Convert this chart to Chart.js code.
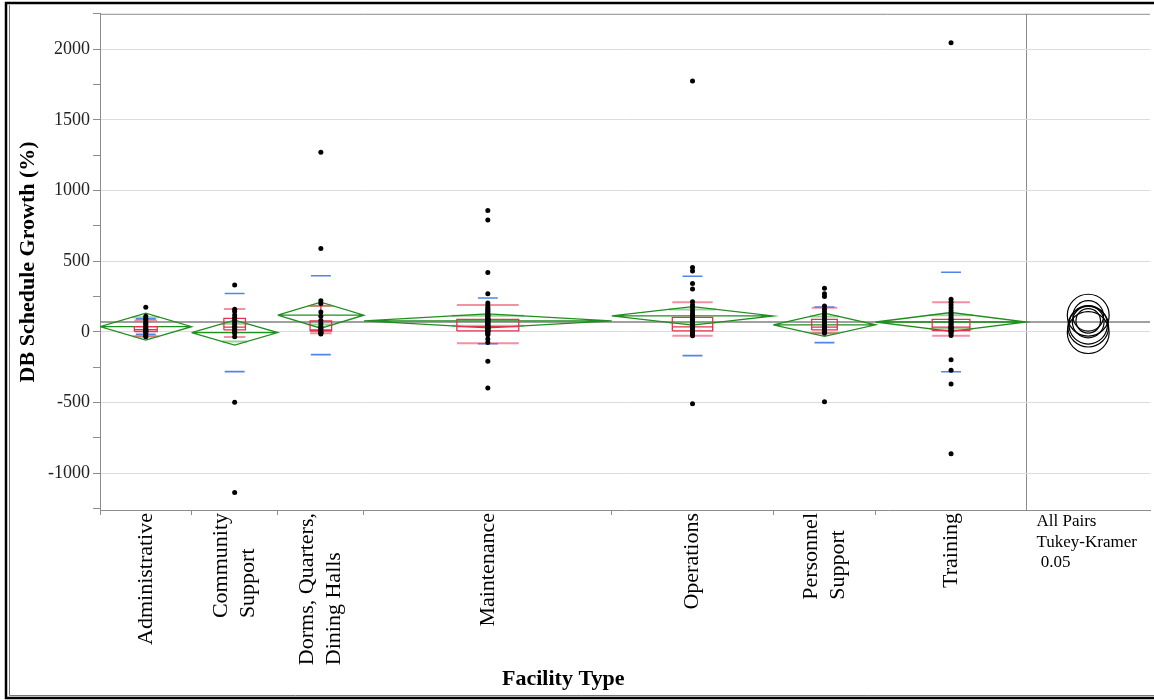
<!DOCTYPE html>
<html>
<head>
<meta charset="utf-8">
<script src="https://cdn.jsdelivr.net/npm/chart.js@4.4.1/dist/chart.umd.min.js"></script>
<style>
	html, body { margin: 0; padding: 0; background: #fff; }
	#wrap { position: relative; width: 1154px; height: 700px; }
</style>
</head>
<body>
<div id="wrap"><canvas id="grafico"></canvas></div>
<script>
/* Datos */
const categorias = ["Administrative", "Community Support", "Dorms, Quarters, Dining Halls", "Maintenance", "Operations", "Personnel Support", "Training"];
const etiquetas = [["Administrative"], ["Community", "Support"], ["Dorms, Quarters,", "Dining Halls"], ["Maintenance"], ["Operations"], ["Personnel", "Support"], ["Training"]];

const valAdministrative = [174, 110, 95, 85, 70, 60, 50, 40, 30, 20, 15, 10, 5, 0, -10, -25, -35];
const valCommunity = [331, 160, 145, 120, 100, 85, 70, 55, 40, 30, 15, 5, -10, -35, -498, -1136];
const valDorms = [1270, 589, 221, 200, 140, 110, 80, 60, 40, 30, 20, 10, 0, -5, -10, -15];
const valMaintenance = [859, 791, 420, 270, 204, 185, 170, 160, 150, 140, 130, 120, 115, 110, 100, 95, 90, 88, 85, 80, 75, 70, 65, 60, 55, 50, 45, 42, 40, 35, 30, 28, 25, 20, 15, 12, 10, 5, 0, -5, -15, -21, -50, -75, -208, -397];
const valOperations = [1775, 456, 430, 343, 303, 213, 190, 170, 150, 130, 115, 100, 90, 80, 70, 60, 50, 45, 40, 35, 30, 25, 20, 15, 10, 5, 0, -15, -28, -509];
const valPersonnel = [308, 270, 250, 183, 160, 140, 120, 100, 85, 70, 55, 40, 30, 20, 10, 5, 0, -10, -495];
const valTraining = [2045, 230, 210, 190, 170, 150, 130, 115, 100, 90, 80, 70, 60, 50, 40, 35, 30, 25, 20, 10, 5, 0, -10, -25, -197, -272, -369, -862];

// diamantes de medias (media e IC 95%)
const medias = [37, -5, 118, 78, 113, 50, 70];
const mediaIC = [95, 88, 92, 50, 65, 82, 67];
const desvEstandar = [55, 276, 279, 162, 281, 126, 352];
const mediaGeneral = 70;

// cajas
const q1 = [2, 14, 5, 7, 7, 14, 9];
const mediana = [15, 33, 14, 37, 35, 33, 33];
const q3 = [37, 96, 77, 89, 103, 89, 89];
const bigoteInf = [-33, -37, -10, -80, -28, -10, -28];
const bigoteSup = [80, 162, 185, 190, 209, 171, 209];

// círculos de comparación Tukey-Kramer
const radiosCirculo = [144, 148, 148, 87, 108, 136, 112];

const yTicks = { min: -1260, max: 2250, paso: 250, mayor: 500 };

/* Construcción de los segmentos */
const grupos = [valAdministrative, valCommunity, valDorms, valMaintenance, valOperations, valPersonnel, valTraining];
const nTotal = grupos.reduce((s, g) => s + g.length, 0);
const xMax = nTotal * (1 + 124 / 930);
const centroPanel = (nTotal + xMax) / 2;

const limites = [0];
grupos.forEach((g) => limites.push(limites[limites.length - 1] + g.length));
const centros = grupos.map((g, i) => limites[i] + g.length / 2);

function seg(arr, pts) {
	pts.forEach((p) => arr.push(p));
	arr.push({ x: pts[0].x, y: null });
}

const puntos = [];
const segDiamantes = [];
const segSolape = [];
const segCajas = [];
const segBigotes = [];
const segDesv = [];
const segMediaGeneral = [];

grupos.forEach((g, i) => {
	const c = centros[i];
	const s = limites[i];
	const e = limites[i + 1];
	const m = medias[i];
	const ic = mediaIC[i];
	g.forEach((v) => puntos.push({ x: c, y: v }));

	seg(segDiamantes, [{ x: s, y: m }, { x: c, y: m + ic }, { x: e, y: m }, { x: c, y: m - ic }, { x: s, y: m }]);
	seg(segDiamantes, [{ x: s, y: m }, { x: e, y: m }]);
	const h = ic / Math.SQRT2;
	const hw = (g.length / 2) * (1 - 1 / Math.SQRT2);
	seg(segSolape, [{ x: c - hw, y: m + h }, { x: c + hw, y: m + h }]);
	seg(segSolape, [{ x: c - hw, y: m - h }, { x: c + hw, y: m - h }]);

	const hb = g.length / 8;
	seg(segCajas, [{ x: c - hb, y: q1[i] }, { x: c + hb, y: q1[i] }, { x: c + hb, y: q3[i] }, { x: c - hb, y: q3[i] }, { x: c - hb, y: q1[i] }]);
	seg(segCajas, [{ x: c - hb, y: mediana[i] }, { x: c + hb, y: mediana[i] }]);
	seg(segCajas, [{ x: c, y: q3[i] }, { x: c, y: bigoteSup[i] }]);
	seg(segCajas, [{ x: c, y: q1[i] }, { x: c, y: bigoteInf[i] }]);
	seg(segBigotes, [{ x: c - hb, y: bigoteSup[i] }, { x: c + hb, y: bigoteSup[i] }]);
	seg(segBigotes, [{ x: c - hb, y: bigoteInf[i] }, { x: c + hb, y: bigoteInf[i] }]);

	seg(segDesv, [{ x: c - 1.85, y: m + desvEstandar[i] }, { x: c + 1.85, y: m + desvEstandar[i] }]);
	seg(segDesv, [{ x: c - 1.85, y: m - desvEstandar[i] }, { x: c + 1.85, y: m - desvEstandar[i] }]);
});
seg(segMediaGeneral, [{ x: 0, y: mediaGeneral }, { x: xMax, y: mediaGeneral }]);

function linea(data, color, ancho, orden) {
	return { type: "line", data, borderColor: color, borderWidth: ancho, pointRadius: 0, fill: false, spanGaps: false, tension: 0, order: orden };
}

//Plugin para círculos, etiquetas y marco
const dibujoExtra = {
	id: "dibujoExtra",
	afterDatasetsDraw(chart) {
		const { ctx, scales: { x, y } } = chart;
		ctx.save();
		ctx.strokeStyle = "#000";
		ctx.lineWidth = 1.2;
		medias.forEach((m, i) => {
			const cx = x.getPixelForValue(centroPanel);
			const cy = y.getPixelForValue(m);
			const r = cy - y.getPixelForValue(m + radiosCirculo[i]);
			ctx.beginPath();
			ctx.arc(cx, cy, r, 0, Math.PI * 2);
			ctx.stroke();
		});
		ctx.restore();
	},
	afterDraw(chart) {
		const { ctx, chartArea: a, scales: { x } } = chart;
		ctx.save();
		ctx.strokeStyle = "#8c8c8c";
		ctx.lineWidth = 1;
		ctx.beginPath();
		ctx.moveTo(a.left, a.top + 0.5);
		ctx.lineTo(a.right, a.top + 0.5);
		ctx.stroke();

		// marco exterior
		ctx.strokeStyle = "#000";
		ctx.lineWidth = 2.5;
		ctx.beginPath();
		ctx.moveTo(1154, 3);
		ctx.lineTo(6, 3);
		ctx.lineTo(6, 698);
		ctx.lineTo(1154, 698);
		ctx.stroke();
		ctx.strokeStyle = "#777";
		ctx.lineWidth = 1;
		ctx.beginPath();
		ctx.moveTo(9.5, 5);
		ctx.lineTo(9.5, 695.5);
		ctx.lineTo(1154, 695.5);
		ctx.stroke();

		// etiquetas de categorías
		ctx.fillStyle = "#000";
		ctx.font = '22px "Liberation Serif"';
		ctx.textBaseline = "middle";
		ctx.textAlign = "left";
		etiquetas.forEach((lineas, i) => {
			const cx = x.getPixelForValue(centros[i]);
			const largo = Math.max(...lineas.map((l) => ctx.measureText(l).width));
			const base = a.bottom + 3 + largo;
			lineas.forEach((l, k) => {
				ctx.save();
				ctx.translate(cx + (k - (lineas.length - 1) / 2) * 27, base);
				ctx.rotate(-Math.PI / 2);
				ctx.fillText(l, 0, 0);
				ctx.restore();
			});
		});

		// título eje x
		const xDiv = x.getPixelForValue(nTotal);
		ctx.font = 'bold 22px "Liberation Serif"';
		ctx.textAlign = "center";
		ctx.fillText("Facility Type", (a.left + xDiv) / 2, 679);

		// texto del panel derecho
		ctx.font = '17px "Liberation Serif"';
		ctx.textAlign = "left";
		ctx.textBaseline = "alphabetic";
		["All Pairs", "Tukey-Kramer", " 0.05"].forEach((t, k) => {
			ctx.fillText(t, xDiv + 10, a.bottom + 16 + k * 20.5);
		});
		ctx.restore();
	},
};

const plotRef = document.getElementById("grafico");

//Objeto de configuración del gráfico
let config = {
	type: "line",
	data: {
		datasets: [
			{ type: "scatter", data: puntos, pointRadius: 2.5, pointBackgroundColor: "#000", pointBorderWidth: 0, showLine: false, order: 0 },
			linea(segCajas, "#e8304f", 1.3, 1),
			linea(segBigotes, "rgba(235,70,100,0.6)", 2, 2),
			linea(segDesv, "#4f86e8", 1.6, 3),
			linea(segDiamantes, "#1f8f1f", 1.3, 4),
			linea(segSolape, "rgba(90,185,90,0.6)", 2, 5),
			linea(segMediaGeneral, "#808080", 1.3, 6),
		],
	},
	options: {
		responsive: true,
		maintainAspectRatio: false,
		animation: false,
		layout: { padding: { left: 8, top: 13, right: 0, bottom: 0 } },
		plugins: { legend: { display: false }, tooltip: { enabled: false } },
		scales: {
			x: {
				type: "linear",
				min: 0,
				max: xMax,
				afterBuildTicks: (s) => {
					s.ticks = limites.map((v) => ({ value: v }));
				},
				afterFit: (s) => {
					s.height = 190;
				},
				ticks: { display: false },
				grid: {
					color: (c) => (c.tick && c.tick.value === nTotal ? "#8c8c8c" : "rgba(0,0,0,0)"),
					tickColor: (c) => (c.tick && c.tick.value === nTotal ? "rgba(0,0,0,0)" : "#8c8c8c"),
					tickLength: 5,
				},
				border: { color: "#8c8c8c" },
			},
			y: {
				min: yTicks.min,
				max: yTicks.max,
				afterBuildTicks: (s) => {
					const t = [];
					for (let v = Math.ceil(yTicks.min / yTicks.paso) * yTicks.paso; v <= yTicks.max; v += yTicks.paso) t.push({ value: v });
					s.ticks = t;
				},
				afterFit: (s) => {
					s.width = 92;
				},
				ticks: {
					autoSkip: false,
					padding: 3,
					color: "#222",
					font: { family: "Liberation Serif", size: 18 },
					callback: (v) => (v % yTicks.mayor === 0 ? String(v) : ""),
				},
				grid: {
					color: (c) => (c.tick && c.tick.value % yTicks.mayor === 0 ? "#dcdcdc" : "rgba(0,0,0,0)"),
					tickColor: "#8c8c8c",
					tickLength: 7,
				},
				border: { color: "#8c8c8c" },
				title: {
					display: true,
					text: "DB Schedule Growth (%)",
					color: "#000",
					font: { family: "Liberation Serif", size: 22, weight: "bold" },
					padding: { top: 7, bottom: 0 },
				},
			},
		},
	},
	plugins: [dibujoExtra],
};

//Objeto con la instanciación del gráfico
const chart = new Chart(plotRef, config);
</script>
</body>
</html>
